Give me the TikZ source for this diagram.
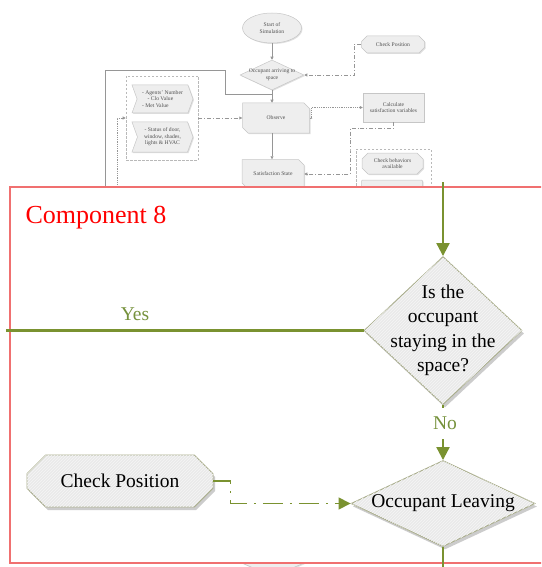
\documentclass[tikz,border=0pt]{standalone}
\usepackage{fontspec}
\setmainfont{Liberation Serif}
\usetikzlibrary{arrows.meta,shapes.geometric,shapes.misc,shapes.symbols,shadows,patterns}

\definecolor{olive}{RGB}{122,146,48}
\definecolor{olivetext}{RGB}{118,146,60}
\definecolor{boxred}{RGB}{240,112,112}
\definecolor{edgegrey}{RGB}{168,172,138}
\definecolor{shapefill}{RGB}{234,234,234}
\definecolor{stripe}{RGB}{246,246,246}
\definecolor{bgline}{RGB}{150,150,150}
\definecolor{bgtext}{RGB}{80,80,80}

\tikzset{
  mainshape/.style={draw=edgegrey, line width=0.9pt, fill=shapefill,
    postaction={pattern=north east lines, pattern color=stripe},
    drop shadow={shadow xshift=2pt, shadow yshift=-3pt, fill=black!20, opacity=1},
    inner sep=0pt},
  maintext/.style={font=\fontsize{19.5}{24.5}\selectfont, align=center, text=black},
  flow/.style={draw=olive, line width=2.2pt, -{Triangle[length=13pt,width=13pt]}},
  flowplain/.style={draw=olive, line width=2.2pt},
  dashdotflow/.style={draw=olive, line width=1.6pt,
    dash pattern=on 20pt off 7pt on 2pt off 7pt, -{Triangle[length=12pt,width=12pt]}},
  branch/.style={font=\fontsize{19.5}{24}\selectfont, text=olivetext},
  % the overview flowchart behind the enlarged component
  bgshape/.style={draw=gray!45, line width=0.5pt, fill=gray!13,
    drop shadow={shadow xshift=1pt, shadow yshift=-1pt, fill=black!12, opacity=1},
    font=\fontsize{5.6}{6.6}\selectfont, text=bgtext, align=center, inner sep=0.5pt},
  bglabel/.style={font=\fontsize{5.6}{6.6}\selectfont, text=bgtext, align=center},
  bgflow/.style={draw=bgline, line width=0.6pt, -{Triangle[length=3pt,width=3pt]}},
  bgdashdot/.style={bgflow, dash pattern=on 4pt off 2pt on 0.8pt off 2pt},
  bgdotted/.style={bgflow, dash pattern=on 0.8pt off 1pt},
  bggroup/.style={draw=gray!55, line width=0.6pt, dash pattern=on 2.5pt off 1.5pt},
  bgchamf/.style={bgshape, chamfered rectangle, chamfered rectangle sep=3pt},
}

\begin{document}
\begin{tikzpicture}[x=1pt,y=-1pt]
\useasboundingbox (0,0) rectangle (541,567);
\clip (0,0) rectangle (541,567);

% ---------- overview flowchart ----------
\node[bgshape, ellipse, minimum width=59pt, minimum height=30pt] (start) at (272,28) {Start of\\Simulation};
\node[bgshape, diamond, minimum width=64pt, minimum height=30pt, inner sep=0pt,
  label={[bglabel]center:{Occupant arriving to\\space}}] (arrive) at (272,75) {};
\node[bgchamf, minimum width=63pt, minimum height=17pt] (cposs) at (393,44.5) {Check Position};
\node[bgchamf, chamfered rectangle corners={north east,south west},
  minimum width=67pt, minimum height=30pt] (observe) at (276,118) {Observe};
\node[bgshape, rectangle, minimum width=61pt, minimum height=29pt] (calc) at (393.5,107.5) {Calculate\\satisfaction variables};
\node[bgchamf, chamfered rectangle corners={north east,south west},
  minimum width=62pt, minimum height=29pt] (sat) at (273,174) {Satisfaction State};

\node[bggroup, minimum width=72pt, minimum height=84pt] (inputs) at (162,118) {};
\node[bgshape, signal, signal from=west, signal to=east, signal pointer angle=140,
  minimum width=61pt, minimum height=28pt, align=left] (agents) at (162.5,99)
  {- Agents' Number\\\hspace{1em}- Clo Value\\- Met Value};
\node[bgshape, signal, signal from=west, signal to=east, signal pointer angle=140,
  minimum width=61pt, minimum height=30pt] (status) at (162.5,137)
  {- Status of door,\\window, shades,\\lights \& HVAC};

\node[bggroup, minimum width=75pt, minimum height=60pt] (checks) at (393.5,179) {};
\node[bgchamf, minimum width=61pt, minimum height=21pt] (behav) at (392.5,163.5) {Check behaviors\\available};
\node[bgchamf, minimum width=61pt, minimum height=24pt] (saving) at (392,192) {};
\node[bgshape, diamond, minimum width=64pt, minimum height=28pt] (staysmall) at (273,562.6) {};

\coordinate (loopfoot) at (105,190);
\coordinate (loopturn) at (225,70);
\coordinate (merge) at (272,94);
\coordinate (dotfoot) at (117,190);
\coordinate (satbend) at (350,150);

\draw[bgflow] (start) -- (arrive);
\draw[bgflow] (arrive.south) -- (arrive.south |- observe.north);
\draw[draw=bgline, line width=0.6pt] (loopfoot) |- (loopturn) |- (merge);
\draw[bgdashdot] (cposs.west) -- ++(-7,0) |- (arrive.east);
\draw[bgdashdot] (inputs.east) -- (observe.west);
\draw[bgdotted] (dotfoot) |- (inputs.west);
\draw[bgdotted] (observe.east) -- ++(2,0) |- (calc.west);
\draw[bgdashdot] (calc.south) -- ++(0,6) -| (satbend) |- (sat.east);
\draw[bgflow] (observe.south -| arrive.south) -- (sat.north -| arrive.south);

% ---------- enlarged component ----------
\node[draw=boxred, line width=1.6pt, fill=white, outer sep=0pt, anchor=north west,
  minimum width=550pt, minimum height=376pt] (frame) at (10,187) {};
\node[font=\fontsize{26}{30}\selectfont, text=red, anchor=base west] (title) at (22,223) {Component 8};

\node[mainshape, diamond, minimum width=158pt, minimum height=148pt,
  label={[maintext]center:{Is the\\occupant\\staying in the\\space?}}] (stay) at (443,330.5) {};
\node[mainshape, diamond, minimum width=184pt, minimum height=86pt,
  label={[maintext]center:{Occupant Leaving}}] (leave) at (443,503.5) {};
\node[mainshape, chamfered rectangle, chamfered rectangle sep=12pt,
  minimum width=186pt, minimum height=52pt, maintext] (cpos) at (120,481) {Check Position};

\coordinate (entry) at (443,182);
\coordinate (yesout) at (6,330.5);
\coordinate (exit) at (443,570);

\draw[flow] (entry) -- (stay.north);
\draw[flowplain] (stay.west) -- (yesout);
\node[branch] (yes) at (135,314) {Yes};
\draw[flow] (stay.south) -- node[branch, fill=white, pos=0.33, inner ysep=9pt, inner xsep=1pt, xshift=2pt] (no) {No} (leave.north);
\draw[flowplain] (leave.south) -- (exit);
\draw[dashdotflow] (cpos.east) -- ++(17,0) |- (leave.west);
\end{tikzpicture}
\end{document}
